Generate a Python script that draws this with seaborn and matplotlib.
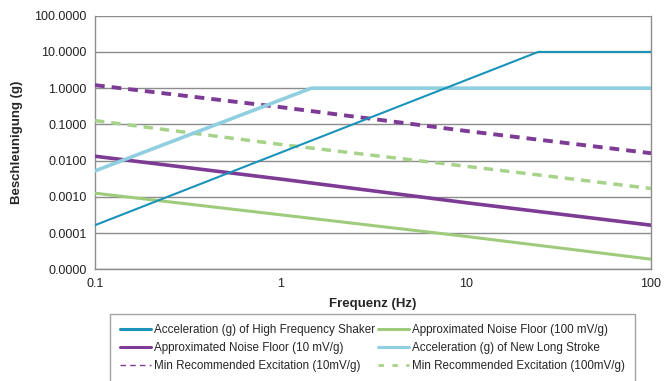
import numpy as np
import pandas as pd
import matplotlib
matplotlib.use("Agg")
import matplotlib.pyplot as plt
from matplotlib.ticker import FixedLocator, FuncFormatter, NullLocator
import seaborn as sns

# Data (log-log)
shaker_freq = [0.1, 24.6, 100]
shaker_acc = [0.000165, 10.0, 10.0]

long_stroke_freq = [0.1, 1.47, 100]
long_stroke_acc = [0.0052, 1.0, 1.0]

noise_freq = [0.1, 1, 10, 100]
noise_10 = [0.0132, 0.0031, 0.00069, 0.000165]
noise_100 = [0.00126, 0.00032, 0.000081, 0.000019]
min_exc_10 = [1.21, 0.30, 0.066, 0.016]
min_exc_100 = [0.127, 0.028, 0.007, 0.0017]

labels = [
    "Acceleration (g) of High Frequency Shaker",
    "Approximated Noise Floor (10 mV/g)",
    "Min Recommended Excitation (10mV/g)",
    "Approximated Noise Floor (100 mV/g)",
    "Acceleration (g) of New Long Stroke",
    "Min Recommended Excitation (100mV/g)",
]

y_ticks = [1e-5, 1e-4, 1e-3, 1e-2, 1e-1, 1, 10, 100]
x_ticks = [0.1, 1, 10, 100]

series = {
    labels[0]: (shaker_freq, shaker_acc),
    labels[1]: (noise_freq, noise_10),
    labels[2]: (noise_freq, min_exc_10),
    labels[3]: (noise_freq, noise_100),
    labels[4]: (long_stroke_freq, long_stroke_acc),
    labels[5]: (noise_freq, min_exc_100),
}

styles = {
    labels[0]: dict(color="#1a93ba", lw=1.5, ls="-", z=6),
    labels[1]: dict(color="#7e3b96", lw=2.6, ls="-", z=4),
    labels[2]: dict(color="#7e3b96", lw=2.8, ls=(0, (2.5, 1.8)), z=3),
    labels[3]: dict(color="#9fcc7c", lw=2.2, ls="-", z=4),
    labels[4]: dict(color="#8fcfe0", lw=2.6, ls="-", z=5),
    labels[5]: dict(color="#a6d389", lw=2.5, ls=(0, (2.7, 2.0)), z=3),
}

rows = []
for name, (f, a) in series.items():
    for fx, ay in zip(f, a):
        rows.append({"Frequenz": fx, "Beschleunigung": ay, "Serie": name})
df = pd.DataFrame(rows)

sns.set_style("white")
plt.rcParams["font.family"] = ["Liberation Sans", "DejaVu Sans"]

fig = plt.figure(figsize=(6.72, 3.81), dpi=100)
ax = fig.add_axes([0.1414, 0.2932, 0.8274, 0.6656])

handles = []
for name in labels:
    st = styles[name]
    sub = df[df["Serie"] == name]
    sns.lineplot(data=sub, x="Frequenz", y="Beschleunigung", ax=ax,
                 color=st["color"], linewidth=st["lw"], linestyle=st["ls"],
                 zorder=st["z"], legend=False, estimator=None, sort=False)
    if st["ls"] == "-":
        h, = ax.plot([], [], color=st["color"], lw=2.2, ls="-", label=name)
    elif name == labels[2]:
        h, = ax.plot([], [], color=st["color"], lw=1.0, ls=(0, (4, 3)), label=name)
    else:
        h, = ax.plot([], [], color=st["color"], lw=2.0, ls=(0, (2, 3)), label=name)
    handles.append(h)

ax.set_xscale("log")
ax.set_yscale("log")
ax.set_xlim(0.1, 100)
ax.set_ylim(1e-5, 100)

ax.xaxis.set_major_locator(FixedLocator(x_ticks))
ax.xaxis.set_minor_locator(NullLocator())
ax.yaxis.set_major_locator(FixedLocator(y_ticks))
ax.yaxis.set_minor_locator(NullLocator())
ax.xaxis.set_major_formatter(FuncFormatter(lambda v, p: f"{v:g}"))
ax.yaxis.set_major_formatter(FuncFormatter(lambda v, p: f"{v:.4f}"))

ax.grid(axis="y", color="#8c8c8c", lw=1.0)
ax.grid(axis="x", visible=False)
ax.set_axisbelow(True)
for sp in ["left", "bottom", "right"]:
    ax.spines[sp].set_color("#8c8c8c")
    ax.spines[sp].set_linewidth(1.0)
ax.spines["top"].set_visible(False)

ax.tick_params(axis="both", direction="out", length=4, width=1, color="#8c8c8c",
               labelsize=9, labelcolor="#222222", pad=2)

ax.set_xlabel("Frequenz (Hz)", fontsize=9.5, fontweight="bold",
              family=["Liberation Sans Narrow", "Liberation Sans"], labelpad=6)
ax.set_ylabel("Beschleunigung (g)", fontsize=9.5, fontweight="bold",
              family=["Liberation Sans Narrow", "Liberation Sans"], labelpad=8)

leg = fig.legend(handles=handles, labels=labels, ncol=2, loc="upper center",
                 bbox_to_anchor=(0.554, 0.176), frameon=True, fancybox=False,
                 fontsize=8.4, handlelength=2.7, handletextpad=0.25,
                 columnspacing=0.2, labelspacing=0.52, borderpad=0.85,
                 borderaxespad=0)
leg.get_frame().set_edgecolor("#8c8c8c")
leg.get_frame().set_linewidth(1.0)

fig.savefig("out.png", dpi=100)
